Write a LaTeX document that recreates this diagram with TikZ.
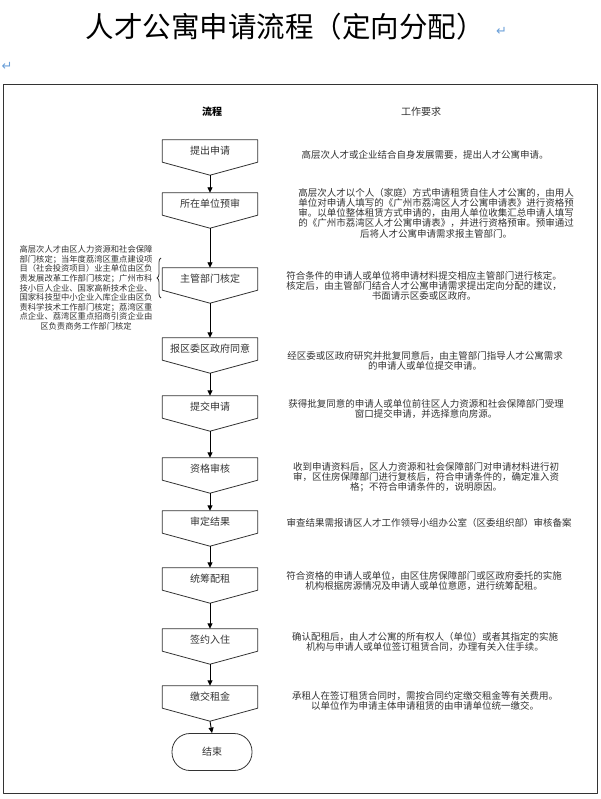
\documentclass[tikz,border=0pt]{standalone}
\usepackage{fontspec}
\setmainfont{Noto Sans CJK SC}
\newfontfamily\markfont{DejaVu Sans}
\usetikzlibrary{arrows.meta, decorations.pathreplacing, positioning}
\definecolor{txtgray}{HTML}{333333}
\definecolor{markblue}{HTML}{6A9FD8}

\begin{document}
\begin{tikzpicture}[
        x=1pt, y=-1pt,
        line join=round,
        flowbox/.style={minimum width=95pt, minimum height=22pt, inner sep=0pt, text=txtgray, font=\fontsize{10}{12}\selectfont},
        worktext/.style={align=center, text=txtgray, inner sep=0pt, font=\fontsize{9.5}{10.2}\selectfont},
        flowarrow/.style={-{Triangle[length=5.5pt,width=5pt]}, line width=0.9pt},
        outline/.style={line width=0.8pt, draw=black!80},
        retmark/.style={text=markblue, inner sep=0pt, font=\markfont\fontsize{13}{13}\selectfont}
    ]
    \useasboundingbox (0,0) rectangle (601,799);
    \node[font=\fontsize{28.5}{30}\selectfont] (title) at (285,27) {人才公寓申请流程（定向分配）};
    \node[retmark, right=8pt of title.east, yshift=-4pt] (ret1) {↵};
    \node[retmark] (ret2) at (7,66) {↵};
    \draw[line width=1pt, draw=black!80] (3,85) rectangle (597,793);

    \node[font=\bfseries\fontsize{10}{12}\selectfont] (hflow) at (212,112) {流程};
    \node[worktext, font=\fontsize{10}{12}\selectfont] (hwork) at (421,112) {工作要求};

    \node[flowbox] (s1) at (210,151) {提出申请};
    \node[flowbox] (s2) at (210,204) {所在单位预审};
    \node[flowbox] (s3) at (210,279) {主管部门核定};
    \node[flowbox] (s4) at (210,349) {报区委区政府同意};
    \node[flowbox] (s5) at (210,407) {提交申请};
    \node[flowbox] (s6) at (210,469) {资格审核};
    \node[flowbox] (s7) at (210,522) {审定结果};
    \node[flowbox] (s8) at (210,579) {统筹配租};
    \node[flowbox] (s9) at (210,640) {签约入住};
    \node[flowbox] (s10) at (210,697) {缴交租金};
    \node[flowbox, outline, draw, rounded corners=18pt, minimum width=80pt, minimum height=37pt] (s11) at (212,752) {结束};
    \foreach \n in {s1,s2,s3,s4,s5,s6,s7,s8,s9,s10} {
        \draw[outline] (\n.north west) -- (\n.north east) -- (\n.south east)
            -- ([yshift=-13pt]\n.south) -- (\n.south west) -- cycle;
        \coordinate (\n-tip) at ([yshift=-13pt]\n.south);
    }
    \foreach \a/\b in {s1/s2, s2/s3, s3/s4, s4/s5, s5/s6, s6/s7, s7/s8, s8/s9, s9/s10, s10/s11}
        \draw[flowarrow] (\a-tip) -- (\b.north);

    \node[worktext] (w1) at (425,155) {高层次人才或企业结合自身发展需要，提出人才公寓申请。};
    \node[worktext] (w2) at (436,213) {高层次人才以个人（家庭）方式申请租赁自住人才公寓的，由用人\\
        单位对申请人填写的《广州市荔湾区人才公寓申请表》进行资格预\\
        审。以单位整体租赁方式申请的，由用人单位收集汇总申请人填写\\
        的《广州市荔湾区人才公寓申请表》，并进行资格预审。预审通过\\
        后将人才公寓申请需求报主管部门。};
    \node[worktext] (w3) at (424,286) {符合条件的申请人或单位将申请材料提交相应主管部门进行核定。\\
        核定后，由主管部门结合人才公寓申请需求提出定向分配的建议，\\
        书面请示区委或区政府。};
    \node[worktext] (w4) at (425,361) {经区委或区政府研究并批复同意后，由主管部门指导人才公寓需求\\
        的申请人或单位提交申请。};
    \node[worktext] (w5) at (426,409) {获得批复同意的申请人或单位前往区人力资源和社会保障部门受理\\
        窗口提交申请，并选择意向房源。};
    \node[worktext] (w6) at (426,477) {收到申请资料后，区人力资源和社会保障部门对申请材料进行初\\
        审，区住房保障部门进行复核后，符合申请条件的，确定准入资\\
        格；不符合申请条件的，说明原因。};
    \node[worktext] (w7) at (429,523) {审查结果需报请区人才工作领导小组办公室（区委组织部）审核备案};
    \node[worktext] (w8) at (424,581) {符合资格的申请人或单位，由区住房保障部门或区政府委托的实施\\
        机构根据房源情况及申请人或单位意愿，进行统筹配租。};
    \node[worktext] (w9) at (425,642) {确认配租后，由人才公寓的所有权人（单位）或者其指定的实施\\
        机构与申请人或单位签订租赁合同，办理有关入住手续。};
    \node[worktext] (w10) at (425,701) {承租人在签订租赁合同时，需按合同约定缴交租金等有关费用。\\
        以单位作为申请主体申请租赁的由申请单位统一缴交。};

    \node[worktext, font=\fontsize{8.3}{9.6}\selectfont] (note) at (86,288) {高层次人才由区人力资源和社会保障\\
        部门核定；当年度荔湾区重点建设项\\
        目（社会投资项目）业主单位由区负\\
        责发展改革工作部门核定；广州市科\\
        技小巨人企业、国家高新技术企业、\\
        国家科技型中小企业入库企业由区负\\
        责科学技术工作部门核定；荔湾区重\\
        点企业、荔湾区重点招商引资企业由\\
        区负责商务工作部门核定};
    \draw[outline, decorate, decoration={brace, amplitude=4pt}] (161,298) -- (161,258);
\end{tikzpicture}
\end{document}
